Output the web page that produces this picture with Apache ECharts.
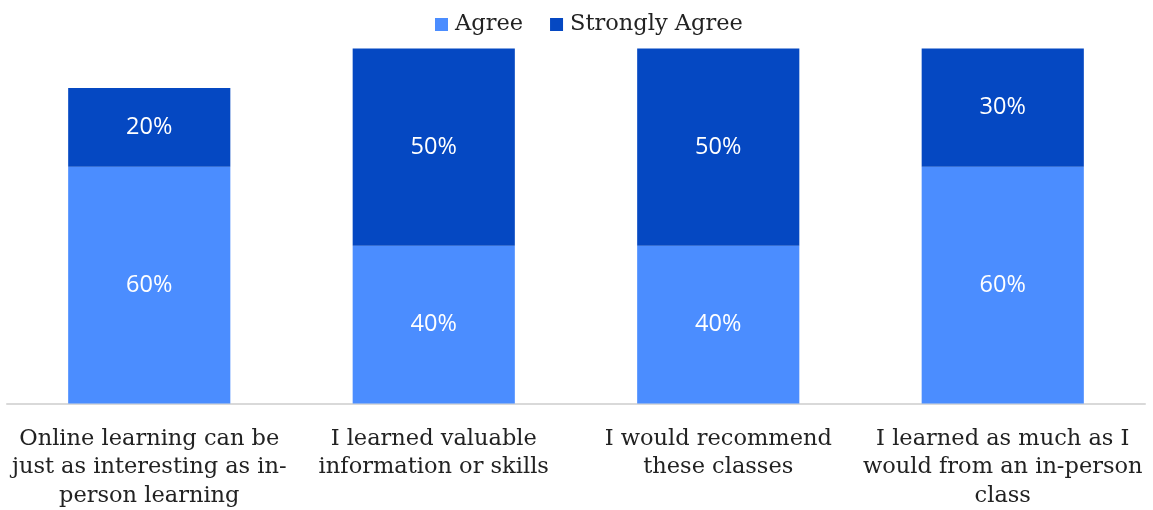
<!DOCTYPE html>
<html>
<head>
<meta charset="utf-8">
<script src="https://cdn.jsdelivr.net/npm/echarts@6/dist/echarts.min.js"></script>
<style>
html,body{margin:0;padding:0;background:#fff;}
#main{width:1153px;height:510px;}
</style>
</head>
<body>
<div id="main"></div>
<script>
var categories = [
    'Online learning can be\njust as interesting as in-\nperson learning',
    'I learned valuable\ninformation or skills',
    'I would recommend\nthese classes',
    'I learned as much as I\nwould from an in-person\nclass'
];
var agree = [60, 40, 40, 60];
var stronglyAgree = [20, 50, 50, 30];

var myChart = echarts.init(document.getElementById('main'));

var labelStyle = {
    show: true,
    position: 'inside',
    color: '#fff',
    fontSize: 23.5,
    fontFamily: 'Open Sans',
    formatter: '{c}%'
};

var option = {
    animation: false,
    legend: {
        top: 8,
        left: 430,
        itemWidth: 13,
        itemHeight: 13,
        itemGap: 27,
        icon: 'rect',
        selectedMode: false,
        textStyle: {
            color: '#222',
            fontSize: 22.5,
            fontFamily: 'DejaVu Serif',
            padding: [0, 0, 0, 2]
        },
        data: ['Agree', 'Strongly Agree']
    },
    grid: {
        left: 7,
        right: 8,
        top: 9,
        bottom: 101,
        containLabel: false
    },
    xAxis: {
        type: 'category',
        data: categories,
        axisLine: { lineStyle: { color: '#d9d9d9', width: 2 } },
        axisTick: { show: false },
        axisLabel: {
            interval: 0,
            margin: 21,
            color: '#222',
            fontSize: 22.5,
            lineHeight: 28.5,
            fontFamily: 'DejaVu Serif'
        }
    },
    yAxis: {
        type: 'value',
        min: 0,
        max: 100,
        show: false,
        splitLine: { show: false }
    },
    series: [
        {
            name: 'Agree',
            type: 'bar',
            stack: 'total',
            barWidth: '57%',
            itemStyle: { color: '#4b8dff' },
            label: labelStyle,
            data: agree
        },
        {
            name: 'Strongly Agree',
            type: 'bar',
            stack: 'total',
            barWidth: '57%',
            itemStyle: { color: '#0548c2' },
            label: labelStyle,
            data: stronglyAgree
        }
    ]
};

myChart.setOption(option);
</script>
</body>
</html>
